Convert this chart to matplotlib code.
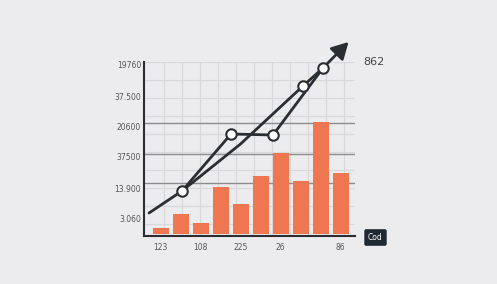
import numpy as np
import matplotlib
matplotlib.use("Agg")
from matplotlib import pyplot as plt

# Data
bar_heights = [6, 20, 11, 47, 30, 58, 81, 53, 112, 61]
x_tick_pos = [0, 2, 4, 6, 9]
x_tick_labels = ["123", "108", "225", "26", "86"]
y_tick_pos = [17, 48, 79, 109, 139, 172]
y_tick_labels = ["3.060", "13.900", "37500", "20600", "37.500", "19760"]
ref_lines = [53, 82, 113]

trend_x = [-0.575, 1.075, 4.0, 7.125, 8.125]
trend_y = [23, 45, 92, 150, 168]
trend_marks = [1, 3]
arrow_tip = (9.5, 196)

actual_x = [1.075, 3.525, 5.625, 8.125]
actual_y = [45, 102, 101, 168]

bg = "#ececee"
dark = "#2a2e33"
orange = "#ee7650"

fig = plt.figure(figsize=(4.97, 2.84), dpi=100, facecolor=bg)
ax = fig.add_axes([144 / 497, 48 / 284, 211 / 497, 174 / 284], facecolor=bg)
ax.set_xlim(-0.825, 9.725)
ax.set_ylim(0, 174)

# light grid
for gx in np.arange(0.175, 9.7, 0.9):
    ax.axvline(gx, color="#d8d8db", lw=0.8, zorder=0)
for gy in np.arange(12, 175, 18):
    ax.axhline(gy, color="#d8d8db", lw=0.8, zorder=0)
for ry in ref_lines:
    ax.axhline(ry, color="#8c8c8e", lw=1.0, zorder=1)

ax.bar(range(len(bar_heights)), bar_heights, width=0.8, bottom=2,
       color=orange, zorder=2)

ax.plot(trend_x, trend_y, color=dark, lw=2.0, zorder=3, solid_capstyle="round")
ax.annotate("", xy=arrow_tip, xytext=(trend_x[-1], trend_y[-1]),
            arrowprops=dict(arrowstyle="-|>,head_length=1.0,head_width=0.55",
                            color=dark, lw=2.0),
            annotation_clip=False, zorder=3)
ax.plot(actual_x, actual_y, color=dark, lw=2.0, zorder=3)

mx = [trend_x[i] for i in trend_marks] + actual_x[1:]
my = [trend_y[i] for i in trend_marks] + actual_y[1:]
ax.plot(mx, my, "o", ms=7.5, mfc="white", mec=dark, mew=1.5, zorder=4,
        clip_on=False)

for s in ["top", "right"]:
    ax.spines[s].set_visible(False)
for s in ["left", "bottom"]:
    ax.spines[s].set_color(dark)
    ax.spines[s].set_linewidth(1.5)

ax.set_xticks(x_tick_pos)
ax.set_xticklabels(x_tick_labels)
ax.set_yticks(y_tick_pos)
ax.set_yticklabels(y_tick_labels)
ax.tick_params(length=0, labelsize=5.5, labelcolor="#555555")
ax.tick_params(axis="x", pad=5)
ax.tick_params(axis="y", pad=2)

fig.text(363 / 497, 1 - 62 / 284, "862", fontsize=8, color="#444444",
         va="center", ha="left")
fig.text(375.5 / 497, 1 - 237.5 / 284, "Cod", fontsize=5.5, color="white",
         va="center", ha="center",
         bbox=dict(boxstyle="round,pad=0.5,rounding_size=0.25",
                   fc="#1e2a33", ec="none"))

fig.savefig("out.png", dpi=100, facecolor=bg)
